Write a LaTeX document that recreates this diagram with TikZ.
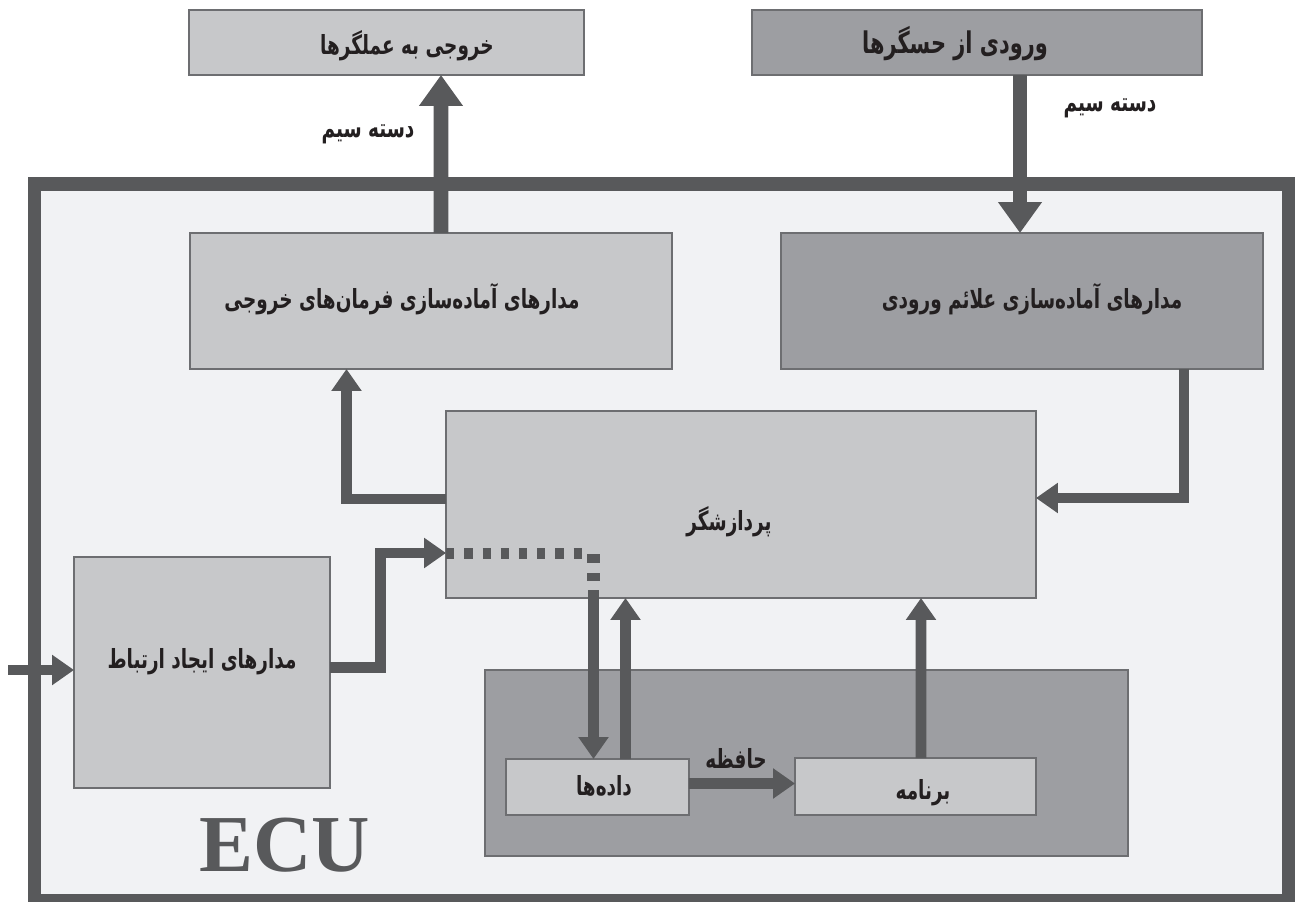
\documentclass[tikz,border=0pt]{standalone}
\usepackage{fontspec}
\setmainfont{Liberation Serif}
\newfontfamily\fa[Script=Arabic,FakeStretch=0.7]{DejaVu Sans}
\TeXXeTstate=1
\usetikzlibrary{arrows.meta,calc}
\definecolor{framec}{HTML}{58595B}
\definecolor{bgc}{HTML}{F1F2F4}
\definecolor{lightc}{HTML}{C7C8CA}
\definecolor{darkc}{HTML}{9D9EA2}
\definecolor{bordc}{HTML}{6D6E71}
\definecolor{textc}{HTML}{231F20}
\begin{document}
\begin{tikzpicture}[x=0.02cm,y=-0.02cm,
  lbox/.style={draw=bordc,fill=lightc,line width=0.8pt,inner sep=0pt,outer sep=0pt},
  dbox/.style={draw=bordc,fill=darkc,line width=0.8pt,inner sep=0pt,outer sep=0pt},
  ecubox/.style={draw=framec,fill=bgc,line width=7.65pt,inner sep=0pt,outer sep=0pt},
  lbl/.style={text=textc,inner sep=0pt,font=\fa\bfseries\fontsize{15}{17}\selectfont},
  arr/.style={draw=framec,line width=6pt,-{Triangle[width=0.58cm,length=0.44cm]}},
  bigarr/.style={draw=framec,line width=8.5pt,-{Triangle[width=0.84cm,length=0.62cm]}},
  dotline/.style={draw=framec,line width=6.2pt,dash pattern=on 4.7pt off 5.67pt}
]
\useasboundingbox (0,0) rectangle (1303,902);
\fill[white] (0,0) rectangle (1303,902);

% ECU frame
\node[ecubox,minimum width=25.08cm,minimum height=14.33cm] (ecu) at (661.5,542.25) {};

% boxes
\node[lbox,minimum width=7.9cm,minimum height=1.3cm] (outTop) at (386.5,42.5) {};
\node[dbox,minimum width=9.0cm,minimum height=1.3cm] (inTop) at (977,42.5) {};
\node[lbox,minimum width=9.64cm,minimum height=2.72cm] (outCond) at (431,301) {};
\node[dbox,minimum width=9.64cm,minimum height=2.72cm] (inCond) at (1022,301) {};
\node[lbox,minimum width=11.8cm,minimum height=3.74cm] (proc) at (741,504.5) {};
\node[lbox,minimum width=5.12cm,minimum height=4.62cm] (comm) at (202,672.5) {};
\node[dbox,minimum width=12.86cm,minimum height=3.72cm] (mem) at (806.5,763) {};
\node[lbox,minimum width=3.66cm,minimum height=1.12cm] (data) at (597.5,787) {};
\node[lbox,minimum width=4.82cm,minimum height=1.14cm] (prog) at (915.5,786.5) {};

% labels
\node[lbl] (outTopT) at (407,46) {\beginR خروجی به عملگرها\endR};
\node[lbl,font=\fa\bfseries\fontsize{17}{19}\selectfont] (inTopT) at (955,44) {\beginR ورودی از حسگرها\endR};
\node[lbl] (outCondT) at (402,299) {\beginR مدارهای آماده‌سازی فرمان‌های خروجی\endR};
\node[lbl] (inCondT) at (1032,299) {\beginR مدارهای آماده‌سازی علائم ورودی\endR};
\node[lbl] (procT) at (729,522) {\beginR پردازشگر\endR};
\node[lbl] (commT) at (202,662) {\beginR مدارهای ایجاد ارتباط\endR};
\node[lbl] (dataT) at (604,786) {\beginR داده‌ها\endR};
\node[lbl] (progT) at (923,793) {\beginR برنامه\endR};
\node[lbl] (wire1) at (368,134) {\beginR دسته سیم\endR};
\node[lbl] (wire2) at (1110,108) {\beginR دسته سیم\endR};
\node[lbl] (memT) at (736,758) {\beginR حافظه\endR};
\node[text=framec,inner sep=0pt,font=\bfseries\fontsize{46}{50}\selectfont] (ecuT) at (284.5,845.5) {ECU};

% connectors
\draw[bigarr] ($(outCond.north)+(10,0)$) -- ($(outTop.south)+(54.5,0)$);
\draw[bigarr] ($(inTop.south)+(43,0)$) -- ($(inCond.north)+(-2,0)$);
\draw[arr] ($(proc.west)+(0,-5.5)$) -| ($(outCond.south)+(-84.5,0)$);
\draw[arr] ($(inCond.south)+(162,0)$) |- ($(proc.east)+(0,-6.5)$);
\draw[arr] ($(comm.east)+(0,-5)$) -- ++(50.5,0) |- ($(proc.west)+(0,48.5)$);
\coordinate (inL) at (8,670);
\draw[arr] (inL) -- ($(comm.west)+(0,-2.5)$);
% dotted internal path
\draw[dotline] ($(proc.west)+(0,49)$) -- ++(138,0);
\fill[framec] (587,554) rectangle (600,563);
\fill[framec] (587,573) rectangle (600,581);
\coordinate (dstart) at (593.5,590);
\draw[arr] (dstart) -- ($(data.north)+(-4,0)$);
\draw[arr] ($(data.north)+(28,0)$) -- ($(proc.south)+(-115.5,0)$);
\draw[arr] ($(prog.north)+(5.5,0)$) -- ($(proc.south)+(180,0)$);
\draw[arr] ($(data.east)+(0,-3.5)$) -- ($(prog.west)+(0,-3)$);
\end{tikzpicture}
\end{document}
